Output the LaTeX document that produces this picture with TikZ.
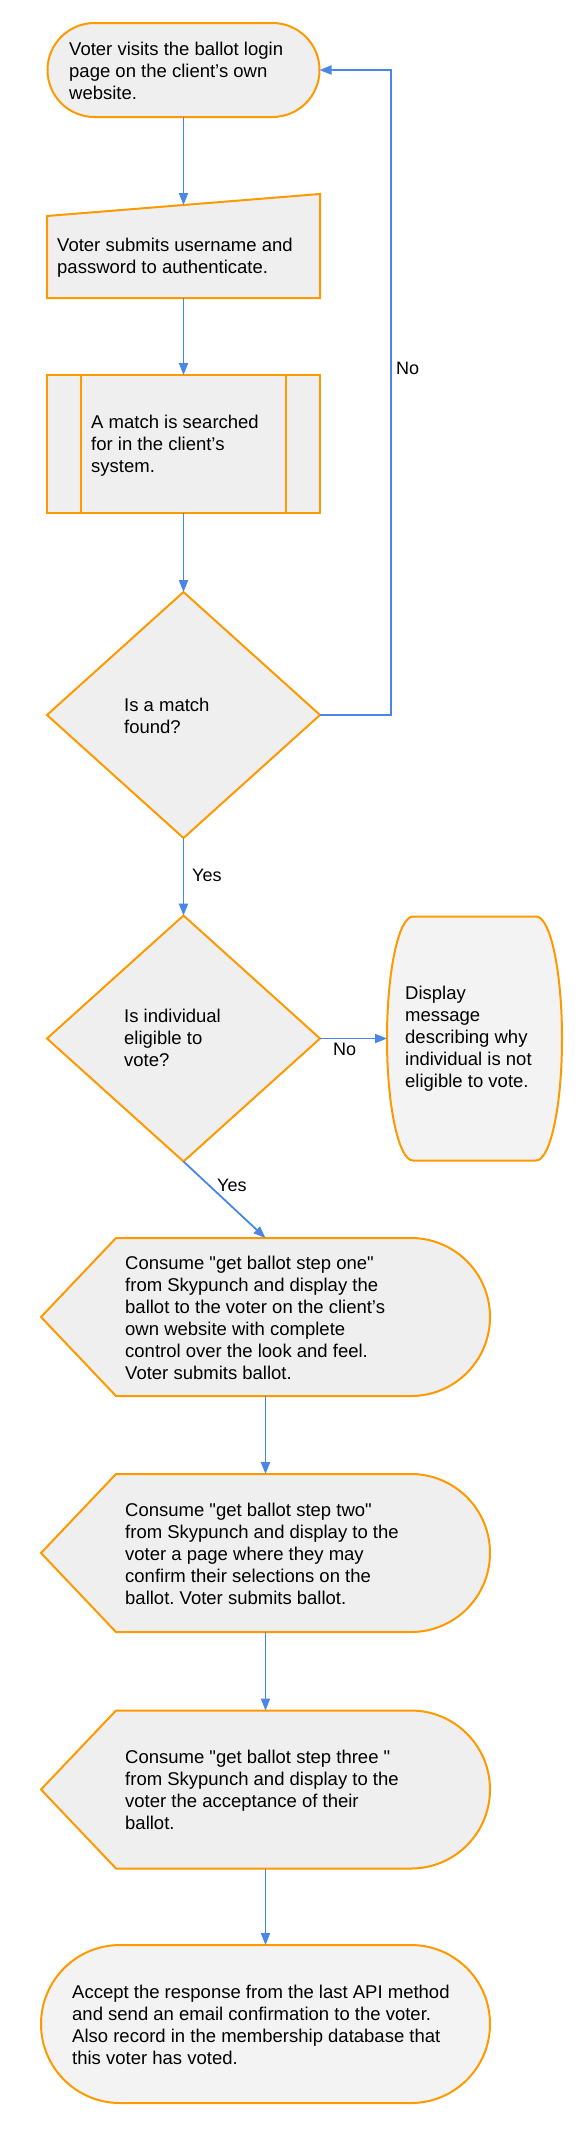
\documentclass[tikz,border=0pt]{standalone}
\usepackage{fontspec}
\setmainfont{Liberation Sans}[Ligatures=TeXOff]
\usetikzlibrary{shapes.geometric,shapes.misc,arrows.meta,calc}
\definecolor{orange1}{HTML}{FF9900}
\definecolor{gray1}{HTML}{EFEFEF}
\definecolor{gray2}{HTML}{F3F3F3}
\definecolor{blue1}{HTML}{4A86E8}
\frenchspacing
\tikzset{
  shp/.style={draw=orange1, line width=2pt, fill=gray1},
  geo/.style={inner sep=0pt, outer sep=0pt},
  arr/.style={draw=blue1, line width=1.8pt, -{Triangle[length=12pt,width=9pt]}},
  txt/.style={anchor=west, inner sep=0pt, align=left, font=\fontsize{18.5}{22}\selectfont},
  lbl/.style={anchor=west, inner sep=0pt, font=\fontsize{18}{22}\selectfont}
}
\begin{document}
\begin{tikzpicture}[x=1pt,y=1pt]
\useasboundingbox (0,0) rectangle (586,-2148);
\fill[white] (0,0) rectangle (586,-2148);

% start terminator
\node[shp, geo, rounded rectangle, minimum width=272pt, minimum height=94pt] (start) at (183.5,-70) {};
\node[txt] (startT) at (69,-71) {Voter visits the ballot login\\page on the client’s own\\website.};

% manual input
\node[geo, rectangle, minimum width=273pt, minimum height=104pt] (m) at (183.5,-246) {};
\draw[shp] (47,-216) -- (320,-194) -- (m.south east) -- (m.south west) -- cycle;
\path (47,-216) -- coordinate[midway] (mtop) (320,-194);
\node[txt] (mT) at (57,-257.5) {Voter submits username and\\password to authenticate.};

% predefined process
\node[shp, geo, rectangle, minimum width=273pt, minimum height=138pt] (p3) at (183.5,-444) {};
\draw[shp] ($(p3.north west)+(34,0)$) -- ($(p3.south west)+(34,0)$);
\draw[shp] ($(p3.north east)+(-34,0)$) -- ($(p3.south east)+(-34,0)$);
\node[txt] (p3T) at (91,-446) {A match is searched\\for in the client’s\\system.};

% decision 1
\node[shp, geo, diamond, minimum width=273pt, minimum height=246pt] (d1) at (183.5,-715) {};
\node[txt] (d1T) at (124,-716) {Is a match\\found?};

% decision 2
\node[shp, geo, diamond, minimum width=273pt, minimum height=246pt] (d2) at (183.5,-1038.5) {};
\node[txt] (d2T) at (124,-1038) {Is individual\\eligible to\\vote?};

% display
\node[geo, rectangle, minimum width=175pt, minimum height=244pt] (disp) at (474.5,-1038.5) {};
\draw[shp, fill=gray2] ($(disp.north west)+(26,0)$) -- ($(disp.north east)+(-26,0)$)
  arc[start angle=90, end angle=-90, x radius=26pt, y radius=122pt]
  -- ($(disp.south west)+(26,0)$)
  arc[start angle=270, end angle=90, x radius=26pt, y radius=122pt] -- cycle;
\node[txt] (dispT) at (405,-1039) {Display\\message\\describing why\\individual is not\\eligible to vote.};

% consume 1
\node[geo, rectangle, minimum width=449pt, minimum height=158pt] (c1) at (265.5,-1317) {};
\draw[shp] (c1.west) -- ($(c1.north west)+(75,0)$) -- ($(c1.north east)+(-79,0)$)
  arc[start angle=90, end angle=-90, radius=79pt] -- ($(c1.south west)+(75,0)$) -- cycle;
\node[txt] (c1T) at (125,-1318) {Consume "get ballot step one"\\from Skypunch and display the\\ballot to the voter on the client’s\\own website with complete\\control over the look and feel.\\Voter submits ballot.};

% consume 2
\node[geo, rectangle, minimum width=449pt, minimum height=158pt] (c2) at (265.5,-1553) {};
\draw[shp] (c2.west) -- ($(c2.north west)+(75,0)$) -- ($(c2.north east)+(-79,0)$)
  arc[start angle=90, end angle=-90, radius=79pt] -- ($(c2.south west)+(75,0)$) -- cycle;
\node[txt] (c2T) at (125,-1554) {Consume "get ballot step two"\\from Skypunch and display to the\\voter a page where they may\\confirm their selections on the\\ballot. Voter submits ballot.};

% consume 3
\node[geo, rectangle, minimum width=449pt, minimum height=158pt] (c3) at (265.5,-1789.5) {};
\draw[shp] (c3.west) -- ($(c3.north west)+(75,0)$) -- ($(c3.north east)+(-79,0)$)
  arc[start angle=90, end angle=-90, radius=79pt] -- ($(c3.south west)+(75,0)$) -- cycle;
\node[txt] (c3T) at (125,-1790) {Consume "get ballot step three "\\from Skypunch and display to the\\voter the acceptance of their\\ballot.};

% final terminator
\node[shp, geo, rounded rectangle, fill=gray2, minimum width=449pt, minimum height=158pt] (fin) at (265.5,-2024) {};
\node[txt] (finT) at (72,-2025) {Accept the response from the last API method\\and send an email confirmation to the voter.\\Also record in the membership database that\\this voter has voted.};

% connectors
\draw[arr] (start.south) -- (mtop);
\draw[arr] (m.south) -- (p3.north);
\draw[arr] (p3.south) -- (d1.north);
\draw[arr] (d1.east) -- ++(71,0) |- (start.east);
\node[lbl] (no1) at (396,-368) {No};
\draw[arr] (d1.south) -- (d2.north);
\node[lbl] (yes1) at (192,-875) {Yes};
\draw[arr] (d2.east) -- (disp.west);
\node[lbl] (no2) at (333,-1049) {No};
\draw[arr] (d2.south) -- (c1.north);
\node[lbl] (yes2) at (217,-1185) {Yes};
\draw[arr] (c1.south) -- (c2.north);
\draw[arr] (c2.south) -- (c3.north);
\draw[arr] (c3.south) -- (fin.north);
\end{tikzpicture}
\end{document}
